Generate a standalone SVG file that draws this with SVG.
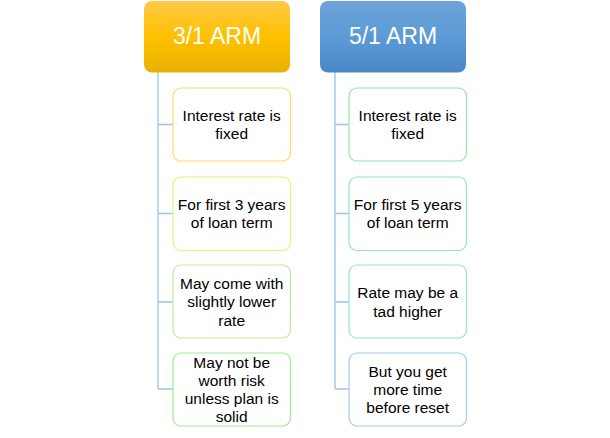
<svg xmlns="http://www.w3.org/2000/svg" width="610" height="438" viewBox="0 0 610 438">
<defs>
<linearGradient id="gGold" x1="0" y1="0" x2="0" y2="1">
<stop offset="0" stop-color="#ffc947"/>
<stop offset="0.5" stop-color="#ffc000"/>
<stop offset="1" stop-color="#e8b200"/>
</linearGradient>
<linearGradient id="gBlue" x1="0" y1="0" x2="0" y2="1">
<stop offset="0" stop-color="#6ea3da"/>
<stop offset="0.5" stop-color="#5b9bd5"/>
<stop offset="1" stop-color="#4a87c6"/>
</linearGradient>
<style>
.hdr{font-family:"Liberation Sans",Arial,sans-serif;font-size:23px;fill:#ffffff;text-anchor:middle}
.txt{font-family:"Liberation Sans",Arial,sans-serif;font-size:15.5px;fill:#000000;text-anchor:middle}
.box{fill:#ffffff;stroke-width:1.2}
.conn{fill:none;stroke:#9dc3e6;stroke-width:1.3}
</style>
</defs>
<rect width="610" height="438" fill="#ffffff"/>
<g id="connectors">
<path class="conn" d="M158,72 V389 M158,124.5 H173 M158,213.5 H173 M158,302 H173 M158,389 H173"/>
<path class="conn" d="M335,72 V389 M335,124.5 H349 M335,213.5 H349 M335,302 H349 M335,389 H349"/>
</g>
<g id="h31">
<rect x="144" y="1" width="146" height="71.5" rx="8" fill="url(#gGold)"/>
<text class="hdr" x="217" y="44">3/1 ARM</text>
</g>
<g id="h51">
<rect x="320" y="1" width="146" height="71.5" rx="8" fill="url(#gBlue)"/>
<text class="hdr" x="393" y="44">5/1 ARM</text>
</g>
<g id="l1">
<rect class="box" x="173" y="88" width="117.5" height="73" rx="8" stroke="#ffd966"/>
<text class="txt" x="231.7" y="120.8">Interest rate is</text>
<text class="txt" x="231.7" y="139.1">fixed</text>
</g>
<g id="l2">
<rect class="box" x="173" y="177" width="117.5" height="73.5" rx="8" stroke="#e8f07c"/>
<text class="txt" x="231.7" y="209.8">For first 3 years</text>
<text class="txt" x="231.7" y="228.1">of loan term</text>
</g>
<g id="l3">
<rect class="box" x="173" y="265" width="117.5" height="73" rx="8" stroke="#bfeb96"/>
<text class="txt" x="231.7" y="289">May come with</text>
<text class="txt" x="231.7" y="307.3">slightly lower</text>
<text class="txt" x="231.7" y="325.6">rate</text>
</g>
<g id="l4">
<rect class="box" x="173" y="353" width="117.5" height="73" rx="8" stroke="#a3e898"/>
<text class="txt" x="231.7" y="367.5">May not be</text>
<text class="txt" x="231.7" y="385.8">worth risk</text>
<text class="txt" x="231.7" y="404.1">unless plan is</text>
<text class="txt" x="231.7" y="422.4">solid</text>
</g>
<g id="r1">
<rect class="box" x="349" y="88" width="117.5" height="73" rx="8" stroke="#92e6a8"/>
<text class="txt" x="407.7" y="120.8">Interest rate is</text>
<text class="txt" x="407.7" y="139.1">fixed</text>
</g>
<g id="r2">
<rect class="box" x="349" y="177" width="117.5" height="73.5" rx="8" stroke="#8ee6c4"/>
<text class="txt" x="407.7" y="209.8">For first 5 years</text>
<text class="txt" x="407.7" y="228.1">of loan term</text>
</g>
<g id="r3">
<rect class="box" x="349" y="265" width="117.5" height="73" rx="8" stroke="#93e2e2"/>
<text class="txt" x="407.7" y="298.2">Rate may be a</text>
<text class="txt" x="407.7" y="316.5">tad higher</text>
</g>
<g id="r4">
<rect class="box" x="349" y="353" width="117.5" height="73" rx="8" stroke="#a3c8ec"/>
<text class="txt" x="407.7" y="376.7">But you get</text>
<text class="txt" x="407.7" y="395">more time</text>
<text class="txt" x="407.7" y="413.3">before reset</text>
</g>
</svg>
